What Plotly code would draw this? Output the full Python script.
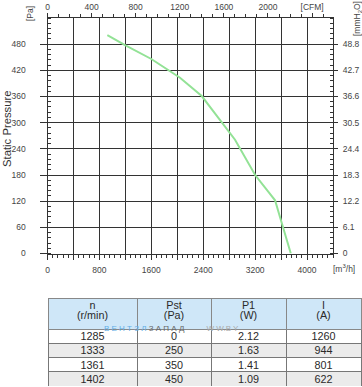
import plotly.graph_objects as go

# ---- data ----
flow_m3h = [922, 1195, 1600, 2042, 2377, 2802, 2890, 3200, 3507, 3584, 3750]
static_pa = [501, 478, 446, 403, 361, 280, 261, 180, 122, 83, 0]

x_ticks = [0, 400, 800, 1200, 1600, 2000, 2400, 2800, 3200, 3600, 4000]
x_ticktext = ["0", "", "800", "", "1600", "", "2400", "", "3200", "", "4000"]
cfm_ticks = [0, 400, 800, 1200, 1600, 2000, 2400]
cfm_ticktext = ["0", "400", "800", "1200", "1600", "2000", "[CFM]"]
pa_ticks = [0, 60, 120, 180, 240, 300, 360, 420, 480]
mm_ticktext = ["0", "6.1", "12.2", "18.3", "24.4", "30.5", "36.6", "42.7", "48.8"]

col_titles = ["n", "Pst", "P1", "I"]
col_units = ["(r/min)", "(Pa)", "(W)", "(A)"]
n_rpm = ["1285", "1333", "1361", "1402"]
pst_pa = ["0", "250", "350", "450"]
p1_w = ["2.12", "1.63", "1.41", "1.09"]
i_a = ["1260", "944", "801", "622"]

W, H = 362, 387
X_MAX = 4400
CFM = 1.69901
Y_MAX = 540

px0, px1 = 47.5, 333
py0, py1 = 18, 253.5

font_family = "Liberation Sans, Arial, sans-serif"
tick_font = dict(family=font_family, size=8.5, color="#444")
axis_col = "#333"
txt_col = "#2a2a2a"
clear = "rgba(0,0,0,0)"
tfont = 10.8

fig = go.Figure()
fig.add_trace(go.Scatter(x=flow_m3h, y=static_pa, mode="lines",
                         line=dict(color="#93e296", width=2),
                         showlegend=False, hoverinfo="skip"))
fig.add_trace(go.Scatter(x=[None], y=[None], xaxis="x2", yaxis="y2",
                         showlegend=False, hoverinfo="skip"))

# table frame (fills and borders)
row_fill = ["white", "#ebebeb", "white", "#ebebeb"]
cols = [n_rpm, pst_pa, p1_w, i_a]
blank_cols = [["" for _ in c] for c in cols]
tx0, tx1 = 48 / W, 361 / W
fig.add_trace(go.Table(
    domain=dict(x=[tx0, tx1], y=[1 - 386.8 / H, 1 - 298 / H]),
    columnwidth=[89, 74, 75, 75],
    header=dict(values=["" for _ in col_titles], fill_color="#cfe7f8",
                line=dict(color="#888", width=1), height=31),
    cells=dict(values=blank_cols, fill_color=[row_fill] * 4,
               line=dict(color="#777", width=1), height=14.3),
))
# header text
fig.add_trace(go.Table(
    domain=dict(x=[tx0, tx1], y=[1 - 325 / H, 1 - 292.5 / H]),
    columnwidth=[89, 74, 75, 75],
    header=dict(values=[[t, u] for t, u in zip(col_titles, col_units)],
                fill_color=clear, line=dict(color=clear, width=0), height=10,
                align="center", font=dict(family=font_family, size=tfont, color=txt_col)),
    cells=dict(values=[[], [], [], []], fill_color=clear, line=dict(color=clear, width=0)),
))
# cell text
fig.add_trace(go.Table(
    domain=dict(x=[tx0, tx1], y=[1 - 386.8 / H, 1 - 293 / H]),
    columnwidth=[89, 74, 75, 75],
    header=dict(values=["" for _ in col_titles], fill_color=clear,
                line=dict(color=clear, width=0), height=31),
    cells=dict(values=cols, fill_color=clear, line=dict(color=clear, width=0), height=14.3,
               align="center", font=dict(family=font_family, size=tfont, color=txt_col)),
))

fig.update_layout(
    width=W, height=H, margin=dict(l=0, r=0, t=0, b=0),
    paper_bgcolor="white", plot_bgcolor="white", showlegend=False,
    xaxis=dict(domain=[px0 / W, px1 / W], range=[0, X_MAX], automargin=False,
               tickmode="array", tickvals=x_ticks, ticktext=x_ticktext,
               showgrid=True, gridcolor=axis_col, gridwidth=1, zeroline=False,
               showline=True, linecolor=axis_col, linewidth=1,
               ticks="outside", ticklen=5, tickcolor=axis_col, ticklabelstandoff=3,
               minor=dict(dtick=80, tick0=0, ticks="outside", ticklen=3, tickcolor=axis_col, showgrid=False),
               tickfont=tick_font, anchor="y"),
    xaxis2=dict(overlaying="x", side="top", anchor="y", range=[0, X_MAX / CFM], automargin=False,
                tickmode="array", tickvals=cfm_ticks, ticktext=cfm_ticktext,
                showgrid=False, zeroline=False, showline=True, linecolor=axis_col, linewidth=1,
                ticks="outside", ticklen=4, tickcolor=axis_col, ticklabelstandoff=0,
                minor=dict(dtick=100, tick0=0, ticks="outside", ticklen=3, tickcolor=axis_col, showgrid=False),
                tickfont=tick_font),
    yaxis=dict(domain=[1 - py1 / H, 1 - py0 / H], range=[0, Y_MAX], automargin=False,
               tickmode="array", tickvals=pa_ticks,
               showgrid=True, gridcolor=axis_col, gridwidth=1, zeroline=False,
               showline=True, linecolor=axis_col, linewidth=1,
               ticks="outside", ticklen=7, tickcolor=axis_col, ticklabelstandoff=12,
               minor=dict(dtick=12, tick0=0, ticks="inside", ticklen=3, tickcolor=axis_col, showgrid=False),
               tickfont=tick_font, anchor="x"),
    yaxis2=dict(overlaying="y", side="right", anchor="x", range=[0, Y_MAX], automargin=False,
                tickmode="array", tickvals=pa_ticks, ticktext=mm_ticktext,
                showgrid=False, zeroline=False, showline=True, linecolor=axis_col, linewidth=1,
                ticks="outside", ticklen=4, tickcolor=axis_col, ticklabelstandoff=3,
                minor=dict(dtick=12, tick0=0, ticks="inside", ticklen=3, tickcolor=axis_col, showgrid=False),
                tickfont=tick_font),
)

ann_font = dict(family=font_family, size=8.5, color="#444")
common = dict(xref="paper", yref="paper", showarrow=False, xanchor="center", yanchor="middle")
fig.add_annotation(text="Static Pressure", x=7 / W, y=1 - 129 / H, textangle=-90,
                   font=dict(family=font_family, size=11.3, color="#333"), **common)
fig.add_annotation(text="[Pa]", x=30 / W, y=1 - 14 / H, textangle=-90, font=ann_font, **common)
fig.add_annotation(text="[mmH<sub>2</sub>O]", x=357 / W, y=1 - 19 / H, textangle=-90,
                   font=ann_font, **common)
fig.add_annotation(text="[m<sup>3</sup>/h]", x=344 / W, y=1 - 268 / H, font=ann_font, **common)
fig.add_annotation(
    text="<span style='color:#62aee6'>В Е Н Т З Л</span><span style='color:#666'> З А П А Д</span>"
         "<span style='color:#aaa'>          W W.B Y</span>",
    xref="paper", yref="paper", x=102 / W, y=1 - 328 / H, xanchor="left", yanchor="middle",
    showarrow=False, font=dict(family=font_family, size=8))

fig.write_html("out.html", config={"displayModeBar": False},
               post_script="document.body.style.margin='0';document.body.style.overflow='hidden';")
